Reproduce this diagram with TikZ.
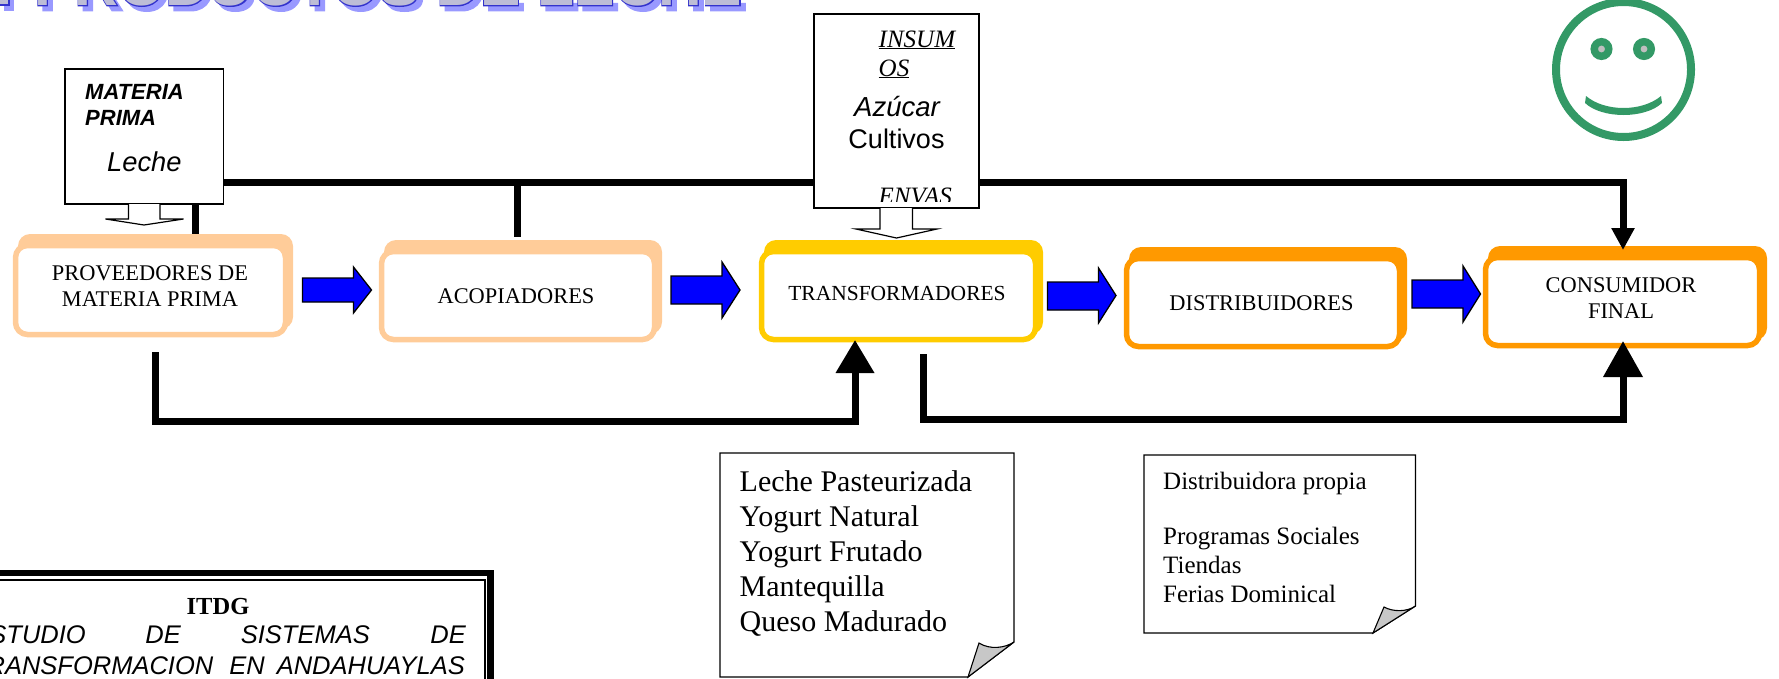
\documentclass[tikz,border=0pt]{standalone}
\usepackage{fontspec}
\usetikzlibrary{arrows.meta}
\setmainfont{Liberation Serif}
\newfontfamily\arialf{Liberation Sans}
\newfontfamily\ttlplain[UprightFont=* Bold]{Liberation Sans}
\newfontfamily\ttlstroke[UprightFont=* Bold,FakeBold=3]{Liberation Sans}
\newcommand{\fs}[2]{\fontsize{#1}{#2}\selectfont}
\definecolor{peachc}{HTML}{FFCC99}
\definecolor{goldc}{HTML}{FFCC00}
\definecolor{orangec}{HTML}{FF9900}
\definecolor{greenc}{HTML}{339966}
\definecolor{titleb}{HTML}{3333CC}
\definecolor{titles}{HTML}{9999FF}
\definecolor{titlef}{HTML}{BDBDD6}
\tikzset{
  cardback/.style={rectangle,rounded corners=12pt,inner sep=0pt,outer sep=0pt},
  cardfront/.style={rectangle,rounded corners=12pt,fill=white,line width=5.5pt,inner sep=0pt,outer sep=0pt},
  cardtext/.style={font=\fs{22.4}{26},align=center,inner sep=0pt},
  blockblue/.style={fill=blue,draw=black,line width=1.3pt,line join=miter},
  blockwhite/.style={fill=white,draw=black,line width=1.2pt,line join=miter},
  bus/.style={line width=7pt,line join=miter,draw=black},
  paper/.style={draw=black,fill=white,line width=1.1pt,rectangle,inner sep=0pt,outer sep=0pt},
  flap/.style={fill=black!22,draw=black,line width=1.1pt},
  note/.style={align=left,inner sep=0pt,anchor=north west},
  lefttext/.style={inner sep=0pt,anchor=base west},
  eye/.style={circle,fill=black!25,draw=greenc,line width=7.5pt,minimum size=14.5pt,inner sep=0pt},
}
% name, x1,y1,x2,y2 (outer extent), colour
\newcommand{\flowcard}[6]{%
  \pgfmathsetmacro{\bw}{#4-#2-5}\pgfmathsetmacro{\bh}{#5-#3-9}%
  \pgfmathsetmacro{\bx}{(#2+5+#4)/2}\pgfmathsetmacro{\by}{(#3+#5-9)/2}%
  \pgfmathsetmacro{\fw}{#4-#2-10}\pgfmathsetmacro{\fh}{#5-#3-15}%
  \pgfmathsetmacro{\fx}{(#2+#4-5)/2}\pgfmathsetmacro{\fy}{(#3+#5+8)/2}%
  \node[cardback,fill=#6,minimum width=\bw pt,minimum height=\bh pt] (#1b) at (\bx,\by) {};
  \node[cardfront,draw=#6,minimum width=\fw pt,minimum height=\fh pt] (#1) at (\fx,\fy) {};
}
% x1,xbase,xtip,ystem1,ystem2,yhead1,yhead2
\newcommand{\blockarrow}[7]{%
  \pgfmathsetmacro{\cy}{(#6+#7)/2}%
  \draw[blockblue] (#1,#4) -- (#2,#4) -- (#2,#6) -- (#3,\cy) -- (#2,#7) -- (#2,#5) -- (#1,#5) -- cycle;
}
\begin{document}
\begin{tikzpicture}[x=1pt,y=-1pt]
\useasboundingbox (0,0) rectangle (1779,678);
\clip (0,0) rectangle (1779,678);

% Title (only its lower edge is on the page)
\begin{scope}
  \clip (0,0) rectangle (800,20);
  \node[lefttext,text=titles,font=\ttlstroke\fs{60.5}{60}] (titleshadow) at (39,10.5) {PRODUCTOS DE LECHE};
  \node[lefttext,text=titleb,font=\ttlstroke\fs{60.5}{60}] (titleline) at (34,5.5) {PRODUCTOS DE LECHE};
  \node[lefttext,text=titlef,font=\ttlplain\fs{60.5}{60}] (title) at (34,5.5) {PRODUCTOS DE LECHE};
  \fill[titles] (4,0) rectangle (14,11);
  \fill[titleb] (-2,0) rectangle (10,6);
  \fill[titlef] (0,0) rectangle (8,4);
\end{scope}

% Chain of actors
\flowcard{prov}{13}{234}{293}{338}{peachc}
\flowcard{acop}{379}{240}{662}{343}{peachc}
\flowcard{trans}{759}{240}{1043}{343}{goldc}
\flowcard{dist}{1124}{247}{1407}{350}{orangec}
\flowcard{cons}{1483}{246}{1767}{349}{orangec}
\node[cardtext] (provt) at (150,286) {PROVEEDORES DE\\MATERIA PRIMA};
\node[cardtext] (acopt) at (516,296) {ACOPIADORES};
\node[cardtext,font=\fs{21.5}{26}] (transt) at (897,293) {TRANSFORMADORES};
\node[cardtext] (distt) at (1261.5,303) {DISTRIBUIDORES};
\node[cardtext] (const) at (1621,298) {CONSUMIDOR\\FINAL};

% Blue block arrows
\blockarrow{302.5}{353.5}{371.5}{278}{302}{267}{313}
\blockarrow{671}{722}{740}{276}{304}{262}{318}
\blockarrow{1047.5}{1098.5}{1116}{282}{310}{268}{323}
\blockarrow{1412}{1463}{1480.5}{280}{308}{266}{322}

% Upper bus
\coordinate (busstart) at (200,182);
\coordinate (busprov) at (195,182);
\coordinate (busacop) at (517,182);
\coordinate (buscons) at (1623,182);
\coordinate (consin) at (1623,250);
\draw[bus] (busstart) -- (buscons);
\draw[bus] (busprov) -- (provb.north -| busprov);
\draw[bus] (busacop) -- ([yshift=3pt]acopb.north -| busacop);
\draw[bus,-{Triangle[width=22pt,length=22pt]}] ([xshift=3.5pt]buscons) -- (buscons) -- (consin);

% Lower lines
\coordinate (lowAstart) at (155.5,352);
\coordinate (lowAcorner) at (155.5,421.5);
\coordinate (lowAend) at (855,421.5);
\coordinate (transin) at (855,340);
\draw[bus,-{Triangle[width=37pt,length=33pt]}] (lowAstart) -- (lowAcorner) -- (lowAend) -- (transin);
\coordinate (lowBstart) at (923,354);
\coordinate (lowBcorner) at (923,419);
\coordinate (lowBend) at (1623,419);
\coordinate (consinlow) at (1623,341);
\draw[bus,-{Triangle[width=38pt,length=36pt]}] (lowBstart) -- (lowBcorner) -- (lowBend) -- (consinlow);

% Materia prima
\node[paper,minimum width=158.5pt,minimum height=135pt] (materia) at (144.25,136.5) {};
\node[lefttext,font=\arialf\bfseries\itshape\fs{22}{26}] (mat1) at (85,99) {MATERIA};
\node[lefttext,font=\arialf\bfseries\itshape\fs{22}{26}] (mat2) at (85,125) {PRIMA};
\node[lefttext,font=\arialf\itshape\fs{27.3}{30}] (leche) at (107,171) {Leche};
\coordinate (mattip) at (144,225);
\draw[blockwhite] (128.5,204) -- (128.5,219) -- (105.5,219) -- (mattip) -- (183.5,219) -- (160,219) -- (160,204);

% Insumos
\node[paper,minimum width=165pt,minimum height=194pt] (insumos) at (896.5,111) {};
\node[lefttext,font=\itshape\fs{25}{28}] (ins1) at (878.5,47) {\underline{INSUM}};
\node[lefttext,font=\itshape\fs{25}{28}] (ins2) at (878.5,76) {\underline{OS}};
\node[inner sep=0pt,font=\arialf\itshape\fs{27.5}{30}] (azucar) at (897,107) {Azúcar};
\node[inner sep=0pt,font=\arialf\fs{27}{30}] (cultivos) at (896.5,139) {Cultivos};
\begin{scope}
  \clip (815,180) rectangle (978,201.5);
  \node[lefttext,font=\itshape\fs{25}{28}] (envas) at (878.5,204) {\underline{ENVAS}};
\end{scope}
\coordinate (instip) at (896.5,238);
\draw[blockwhite] (880,208) -- (880,229) -- (856,229) -- (instip) -- (937,229) -- (912.5,229) -- (912.5,208);

% Smiley
\draw[greenc,line width=8pt] (1623.5,69.5) ellipse [x radius=67.5,y radius=67.5];
\node[eye] (eyeL) at (1601.5,49) {};
\node[eye] (eyeR) at (1644,49) {};
\fill[greenc] (1586,96) .. controls (1605,112) and (1642,112) .. (1661,96) -- (1662,103) .. controls (1645,119) and (1602,119) .. (1585,103) -- cycle;

% Notes
\node[paper,draw=none,fill=none,minimum width=294pt,minimum height=224pt] (noteA) at (867,565) {};
\draw[paper] (720,453) -- (1014,453) -- (1014,642) -- (968,677) -- (720,677) -- cycle;
\draw[flap] (968,677) -- (979,643) .. controls (990,650) and (1005,648) .. (1014,642) -- cycle;
\node[note,font=\fs{30}{35}] (noteAtext) at (739.5,470) {Leche Pasteurizada\\Yogurt Natural\\Yogurt Frutado\\Mantequilla\\Queso Madurado};

\node[paper,draw=none,fill=none,minimum width=271.5pt,minimum height=178pt] (noteB) at (1279.75,544) {};
\draw[paper] (1144,455) -- (1415.5,455) -- (1415.5,606) -- (1373,633) -- (1144,633) -- cycle;
\draw[flap] (1373,633) -- (1384,607) .. controls (1393,612) and (1407,612) .. (1415.5,606) -- cycle;
\node[note,font=\fs{25}{29}] (noteBtext) at (1163,471.5) {Distribuidora propia\\[26pt]Programas Sociales\\Tiendas\\Ferias Dominical};

% ITDG box
\node[rectangle,draw=black,fill=white,line width=6.5pt,minimum width=520pt,minimum height=140pt,inner sep=0pt] (itdg) at (230.5,643) {};
\draw[black,line width=1.4pt] (-20,580) -- (485,580) -- (485,690);
\node[inner sep=0pt,anchor=base,font=\bfseries\fs{24.5}{28}] (itdgt) at (218,614) {ITDG};
\begin{scope}[every node/.style={inner sep=0pt,anchor=base east,font=\arialf\itshape\fs{25.5}{30}}]
  \node (w1) at (86,643) {ESTUDIO};
  \node (w2) at (181,643) {DE};
  \node (w3) at (370,643) {SISTEMAS};
  \node (w4) at (466,643) {DE};
  \node (w5) at (213.5,674) {TRANSFORMACION};
  \node (w6) at (265,674) {EN};
  \node (w7) at (465,674) {ANDAHUAYLAS};
\end{scope}
\end{tikzpicture}
\end{document}
